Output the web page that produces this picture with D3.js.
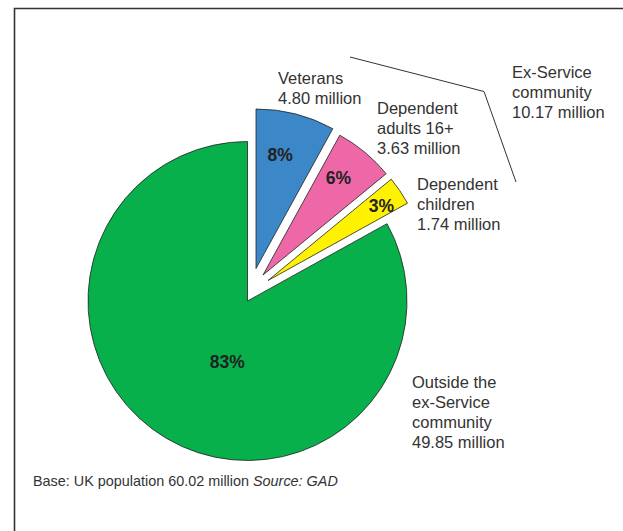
<!DOCTYPE html>
<html><head><meta charset="utf-8">
<script src="https://cdn.jsdelivr.net/npm/d3@7"></script>
<style>body{margin:0;background:#fff}svg{display:block}</style>
</head><body><svg id="c" width="623" height="531"></svg>
<script>
// ---- data ----
const categories = ["Veterans", "Dependent adults 16+", "Dependent children", "Outside the ex-Service community"];
const values = [4.80, 3.63, 1.74, 49.85];
const percentLabels = ["8%", "6%", "3%", "83%"];
const labelLines = [
  ["Veterans", "4.80 million"],
  ["Dependent", "adults 16+", "3.63 million"],
  ["Dependent", "children", "1.74 million"],
  ["Outside the", "ex-Service", "community", "49.85 million"]
];
const groupLabel = ["Ex-Service", "community", "10.17 million"];
const footerText = "Base: UK population 60.02 million ";
const sourceText = "Source: GAD";
const colors = ["#3b87c7", "#ee67a6", "#fff200", "#07b04b"];

// ---- layout ----
const W = 623, H = 531;
const cx = 247.5, cy = 301, R = 159.5;
const explode = [[8.5, -32.5], [15.5, -26], [20.5, -20.5], [0, 0]];
const pctPos = [[116, -2.4], [123, -1.8], [136, 0.8], [64, -12]]; // radius, angle adjust (deg)
const outerPos = [[278, 78], [377, 108], [417, 184], [412, 382]];
const groupPos = [512, 72];
const bracket = [[350, 57], [484, 91.5], [516, 182]];
const lineH = 20;
const font = "'Liberation Sans', Arial, Helvetica, sans-serif";

const svg = d3.select("#c");
svg.append("rect").attr("width", W).attr("height", H).attr("fill", "#fff");

// frame
svg.append("path")
  .attr("d", `M14.5,${H} L14.5,8.5 L${W},8.5`)
  .attr("fill", "none").attr("stroke", "#333").attr("stroke-width", 1.6);

const pie = d3.pie().sort(null).value(d => d)(values);
const arc = d3.arc().innerRadius(0).outerRadius(R);

const g = svg.append("g").attr("transform", `translate(${cx},${cy})`);

g.selectAll("path.slice").data(pie).join("path")
  .attr("class", "slice")
  .attr("transform", (d, i) => `translate(${explode[i][0]},${explode[i][1]})`)
  .attr("d", arc)
  .attr("fill", (d, i) => colors[i])
  .attr("stroke", "#222")
  .attr("stroke-width", 0.8)
  .attr("stroke-linejoin", "miter");

// percent labels
g.selectAll("text.pct").data(pie).join("text")
  .attr("class", "pct")
  .attr("x", (d, i) => {
    const a = (d.startAngle + d.endAngle) / 2 + pctPos[i][1] * Math.PI / 180;
    return explode[i][0] + pctPos[i][0] * Math.sin(a);
  })
  .attr("y", (d, i) => {
    const a = (d.startAngle + d.endAngle) / 2 + pctPos[i][1] * Math.PI / 180;
    return explode[i][1] - pctPos[i][0] * Math.cos(a);
  })
  .attr("dy", "0.35em")
  .attr("text-anchor", "middle")
  .attr("font-family", font)
  .attr("font-weight", "bold")
  .attr("font-size", 17.5)
  .attr("fill", "#222")
  .text((d, i) => percentLabels[i]);

// outer labels
labelLines.forEach((lines, i) => {
  const t = svg.append("text")
    .attr("font-family", font).attr("font-size", 16.5).attr("fill", "#333");
  lines.forEach((ln, j) => {
    t.append("tspan").attr("x", outerPos[i][0]).attr("y", outerPos[i][1] + j * lineH)
      .attr("dy", "0.35em").text(ln);
  });
});

// group label + bracket
const gt = svg.append("text").attr("font-family", font).attr("font-size", 16.5).attr("fill", "#333");
groupLabel.forEach((ln, j) => {
  gt.append("tspan").attr("x", groupPos[0]).attr("y", groupPos[1] + j * lineH).attr("dy", "0.35em").text(ln);
});
svg.append("path")
  .attr("d", d3.line()(bracket))
  .attr("fill", "none").attr("stroke", "#333").attr("stroke-width", 1);

// footer
const ft = svg.append("text").attr("x", 33).attr("y", 481).attr("dy", "0.35em")
  .attr("font-family", font).attr("font-size", 14.4).attr("fill", "#333");
ft.append("tspan").text(footerText);
ft.append("tspan").attr("font-style", "italic").text(sourceText);
</script>
</body></html>
